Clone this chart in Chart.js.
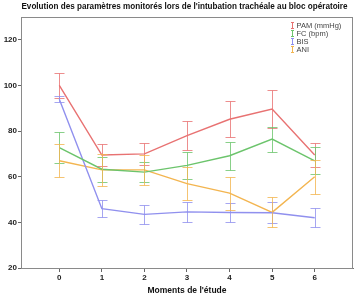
<!DOCTYPE html>
<html>
<head>
<meta charset="utf-8">
<script src="https://cdn.jsdelivr.net/npm/chart.js@4/dist/chart.umd.min.js"></script>
<style>
html,body{margin:0;padding:0;background:#fff;}
#wrap{width:359px;height:296px;position:relative;}
</style>
</head>
<body>
<div id="wrap"><canvas id="c" width="359" height="296"></canvas></div>
<script>
const titleText = "Evolution des paramètres monitorés lors de l'intubation trachéale au bloc opératoire";
const xTitle = "Moments de l'étude";
const categories = [0, 1, 2, 3, 4, 5, 6];
const yTicks = [20, 40, 60, 80, 100, 120];
const seriesNames = ["PAM (mmHg)", "FC (bpm)", "BIS", "ANI"];
const pamMean = [100, 69.5, 70, 78, 85.2, 89.7, 69.5];
const pamErr  = [5.5, 5, 4.7, 6.3, 7.8, 8.3, 5.2];
const fcMean  = [72.8, 63.3, 62, 65, 69.2, 76.5, 67];
const fcErr   = [6.7, 5.4, 4.5, 5.8, 6.2, 5.5, 6];
const bisMean = [94, 46, 43.5, 44.6, 44.3, 44.2, 42];
const bisErr  = [1.3, 3.8, 4.2, 4.4, 4, 4.6, 4.2];
const aniMean = [67, 63, 63, 57, 52.8, 44.4, 60];
const aniErr  = [7.3, 7, 6.5, 7.2, 7.2, 6.6, 7.5];

const colors = ['#e87272', '#6cc46c', '#9090ee', '#f3b550'];
const means = [pamMean, fcMean, bisMean, aniMean];
const errs = [pamErr, fcErr, bisErr, aniErr];

const datasets = means.map((m, k) => ({
  label: seriesNames[k],
  data: categories.map((c, i) => ({x: c, y: m[i]})),
  borderColor: colors[k],
  backgroundColor: colors[k],
  borderWidth: 1.4,
  pointRadius: 0,
  tension: 0,
  fill: false
}));

const errorBarPlugin = {
  id: 'errorBars',
  afterDatasetsDraw(chart) {
    const ctx = chart.ctx;
    const xs = chart.scales.x, ys = chart.scales.y;
    ctx.save();
    ctx.lineWidth = 1;
    ctx.globalAlpha = 0.8;
    means.forEach((m, k) => {
      ctx.strokeStyle = colors[k];
      categories.forEach((c, i) => {
        const x = Math.round(xs.getPixelForValue(c)) + 0.5;
        const yt = Math.round(ys.getPixelForValue(m[i] + errs[k][i])) + 0.5;
        const yb = Math.round(ys.getPixelForValue(m[i] - errs[k][i])) + 0.5;
        ctx.beginPath();
        ctx.moveTo(x, yt); ctx.lineTo(x, yb);
        ctx.moveTo(x - 5, yt); ctx.lineTo(x + 5, yt);
        ctx.moveTo(x - 5, yb); ctx.lineTo(x + 5, yb);
        ctx.stroke();
      });
    });
    ctx.restore();
  }
};

const framePlugin = {
  id: 'frame',
  afterDraw(chart) {
    const ctx = chart.ctx, a = chart.chartArea;
    ctx.save();
    ctx.strokeStyle = '#8a8a8a';
    ctx.lineWidth = 1;
    ctx.strokeRect(Math.round(a.left) + 0.5, Math.round(a.top) + 0.5, Math.round(a.right - a.left) - 1, Math.round(a.bottom - a.top));
    // title
    ctx.fillStyle = '#111';
    ctx.font = 'bold 8.15px "Liberation Sans", Arial, sans-serif';
    ctx.textAlign = 'center';
    ctx.textBaseline = 'middle';
    ctx.fillText(titleText, 184.5, 7);
    // legend
    ctx.font = '7.5px "Liberation Sans", Arial, sans-serif';
    ctx.textAlign = 'left';
    seriesNames.forEach((n, k) => {
      const y = a.top + 8.5 + k * 8;
      const gx = a.right - 60.5;
      ctx.strokeStyle = colors[k];
      ctx.beginPath();
      ctx.moveTo(gx, y - 3); ctx.lineTo(gx, y + 3);
      ctx.moveTo(gx - 1.5, y - 3); ctx.lineTo(gx + 1.5, y - 3);
      ctx.moveTo(gx - 1.5, y + 3); ctx.lineTo(gx + 1.5, y + 3);
      ctx.stroke();
      ctx.fillStyle = '#444';
      ctx.fillText(n, gx + 4, y);
    });
    ctx.restore();
  }
};

new Chart(document.getElementById('c'), {
  type: 'line',
  data: { datasets },
  options: {
    responsive: false,
    animation: false,
    events: [],
    layout: { padding: { top: 17, right: 6, left: 0, bottom: 0 } },
    plugins: { legend: { display: false }, title: { display: false }, tooltip: { enabled: false } },
    scales: {
      x: {
        type: 'linear',
        min: -0.9,
        max: 6.9,
        afterBuildTicks(s) { s.ticks = categories.map(v => ({ value: v })); },
        afterFit(s) { s.height = 28; },
        grid: { drawOnChartArea: false, drawTicks: true, tickLength: 4, color: '#666' },
        border: { color: '#777' },
        ticks: { color: '#222', padding: 1, font: { size: 8, weight: 'bold', family: '"Liberation Sans", Arial, sans-serif' }, maxRotation: 0 },
        title: { display: true, text: xTitle, color: '#111', padding: { top: 2, bottom: 0 }, font: { size: 8.5, weight: 'bold', family: '"Liberation Sans", Arial, sans-serif' } }
      },
      y: {
        min: 20,
        max: 130,
        afterBuildTicks(s) { s.ticks = yTicks.map(v => ({ value: v })); },
        afterFit(s) { s.width = 21; },
        grid: { drawOnChartArea: false, drawTicks: true, tickLength: 3, color: '#666' },
        border: { color: '#777' },
        ticks: { color: '#222', padding: 1, font: { size: 8, weight: 'bold', family: '"Liberation Sans", Arial, sans-serif' } }
      }
    }
  },
  plugins: [errorBarPlugin, framePlugin]
});
</script>
</body>
</html>
